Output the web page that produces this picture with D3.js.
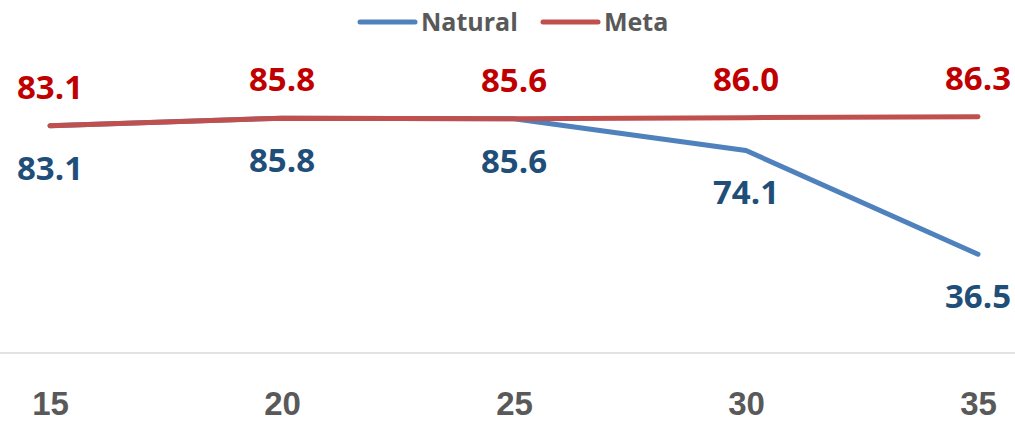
<!DOCTYPE html>
<html>
<head>
<meta charset="UTF-8" />
<title>Natural vs Meta</title>
<script src="https://d3js.org/d3.v7.min.js"></script>
<style type="text/css">
body {
    margin: 0;
    background-color: #fff;
    font-family: "Open Sans", sans-serif;
}
.tick-label {
    fill: #595959;
    font-size: 33px;
    font-weight: bold;
}
.value-label {
    font-size: 33px;
    font-weight: bold;
}
.legend text {
    fill: #595959;
    font-size: 25px;
    font-weight: bold;
}
</style>
</head>
<body>
<svg width="1015" height="421" id="chart"></svg>

<script type="text/javascript">
var categories = ['15', '20', '25', '30', '35'];
var naturalValues = [83.1, 85.8, 85.6, 74.1, 36.5];
var metaValues = [83.1, 85.8, 85.6, 86.0, 86.3];
var seriesNames = ['Natural', 'Meta'];

var svg = d3.select('#chart');

var lineColors = ['#4f81bd', '#c0504d'];
var labelColors = ['#1f4e79', '#c00000'];

var x = d3.scalePoint().domain(categories).range([50, 978]);
var y = d3.scaleLinear().domain([0, 100]).range([355, 79]);

// baseline
svg.append('line')
    .attr('x1', 0).attr('x2', 1015)
    .attr('y1', 353).attr('y2', 353)
    .attr('stroke', '#d9d9d9')
    .attr('stroke-width', 1.5);

// category labels
var xAxis = d3.axisBottom(x).tickSize(0).tickPadding(0);
var gx = svg.append('g').attr('transform', 'translate(0,415)').call(xAxis);
gx.select('.domain').remove();
gx.selectAll('text')
    .attr('class', 'tick-label')
    .attr('font-family', null)
    .attr('font-size', null)
    .attr('fill', null)
    .attr('dy', null);

var line = d3.line()
    .x(function(d, i) { return x(categories[i]); })
    .y(function(d) { return y(d); });

var allSeries = [naturalValues, metaValues];

allSeries.forEach(function(vals, s) {
    svg.append('path')
        .datum(vals)
        .attr('d', line)
        .attr('fill', 'none')
        .attr('stroke', lineColors[s])
        .attr('stroke-width', 5)
        .attr('stroke-linecap', 'round')
        .attr('stroke-linejoin', 'round');
});

// value labels: meta above, natural below
allSeries.forEach(function(vals, s) {
    svg.append('g').selectAll('text').data(vals)
        .enter().append('text')
        .attr('class', 'value-label')
        .attr('fill', labelColors[s])
        .attr('text-anchor', 'middle')
        .attr('x', function(d, i) { return x(categories[i]); })
        .attr('y', function(d) { return s == 1 ? y(d) - 27 : y(d) + 54; })
        .text(function(d) { return d.toFixed(1); });
});

// legend
var legendX = [360, 543];
var legend = svg.append('g').attr('class', 'legend');
seriesNames.forEach(function(name, s) {
    legend.append('line')
        .attr('x1', legendX[s]).attr('x2', legendX[s] + 55)
        .attr('y1', 22).attr('y2', 22)
        .attr('stroke', lineColors[s])
        .attr('stroke-width', 5)
        .attr('stroke-linecap', 'round');
    legend.append('text')
        .attr('x', legendX[s] + 61)
        .attr('y', 31)
        .text(name);
});
</script>
</body>
</html>
